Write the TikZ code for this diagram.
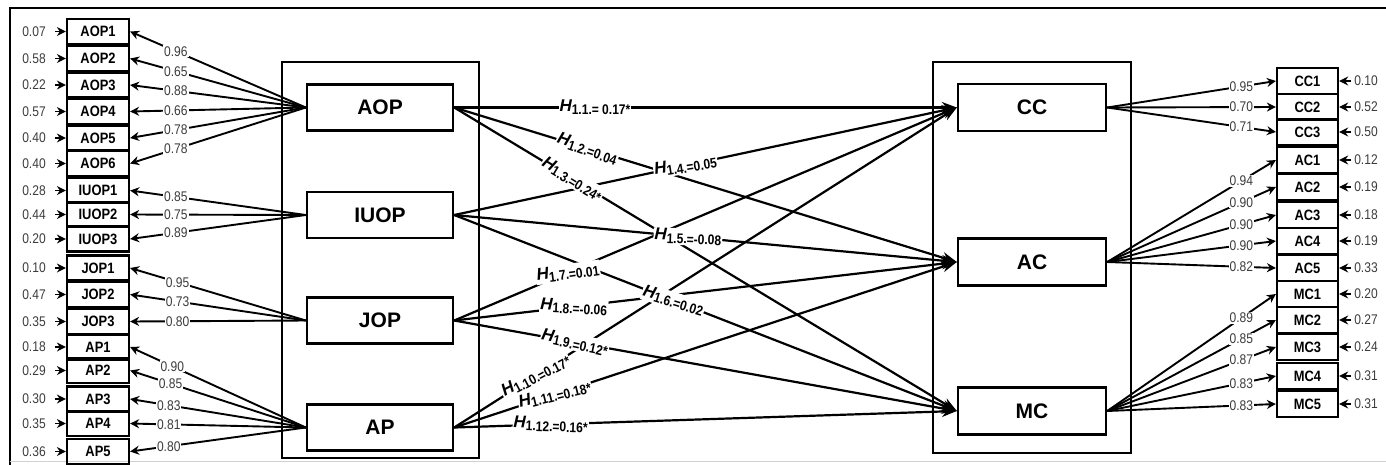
\documentclass[tikz,border=0pt]{standalone}
\usepackage{fontspec}
\setmainfont{Liberation Sans}
\newfontfamily\narrowfont[FakeStretch=0.86]{Liberation Sans}
\usetikzlibrary{arrows.meta}
\definecolor{numgray}{RGB}{60,60,60}
% hypothesis label: big italic H, lowered index and estimate
\newcommand\hyplab[1]{{\fontsize{17}{17}\selectfont\bfseries\itshape H}\raisebox{-3pt}{\narrowfont\bfseries\fontsize{14}{14}\selectfont #1}}
\tikzset{
  ind/.style={draw, line width=2.2pt, minimum width=62pt, minimum height=25pt, inner sep=0pt,
    font=\narrowfont\bfseries\fontsize{15}{15}\selectfont},
  lat/.style={draw, line width=2.4pt, minimum width=146pt, minimum height=46pt, inner sep=0pt,
    font=\bfseries\fontsize{21}{21}\selectfont},
  num/.style={text=numgray, font=\narrowfont\fontsize{14}{14}\selectfont, inner sep=1pt},
  lnum/.style={num, fill=white},
  smallarrow/.style={-{Stealth[length=9pt,width=9pt]}, line width=1.9pt},
  patharrow/.style={-{Stealth[length=15pt,width=11pt]}, line width=2.2pt},
  hlab/.style={fill=white, inner sep=1pt},
  frame/.style={line width=2.4pt},
}
\begin{document}
\begin{tikzpicture}[x=1pt,y=-1pt]
\useasboundingbox (0,0) rectangle (1386,464);
% outer frame
\draw[frame] (1392,8) -- (10,8) -- (10,470);
\draw[gray!35, line width=1pt] (10,461) -- (1392,461);
% construct groups
\draw[frame] (282,62) rectangle (479,458);
\draw[frame] (933,62) rectangle (1131,453);

% exogenous constructs
\node[lat] (AOP)  at (380,107.5) {AOP};
\node[lat] (IUOP) at (380,215)   {IUOP};
\node[lat] (JOP)  at (380,320.5) {JOP};
\node[lat] (AP)   at (380,427.5) {AP};
% endogenous constructs
\node[lat, minimum width=148pt, minimum height=47pt] (CC) at (1032,107.5) {CC};
\node[lat, minimum width=148pt, minimum height=47pt] (AC) at (1032,262)   {AC};
\node[lat, minimum width=148pt, minimum height=47pt] (MC) at (1032,411)   {MC};

% left indicators with error terms
\foreach \n/\y/\e in {AOP1/31.5/0.07, AOP2/58.5/0.58, AOP3/85/0.22, AOP4/111.5/0.57,
  AOP5/138/0.40, AOP6/163.5/0.40, IUOP1/190.5/0.28, IUOP2/214.5/0.44, IUOP3/239/0.20,
  JOP1/268/0.10, JOP2/294.5/0.47, JOP3/321.5/0.35, AP1/347/0.18, AP2/370.5/0.29,
  AP3/399/0.30, AP4/423.5/0.35, AP5/451.5/0.36}{
  \node[ind] (\n) at (98,\y) {\n};
  \node[num] (e\n) at (34,\y) {\e};
  \draw[smallarrow, shorten <=8pt] (e\n) -- (\n);
}
% right indicators with error terms
\foreach \n/\y/\e in {CC1/81/0.10, CC2/107/0.52, CC3/132/0.50, AC1/160/0.12, AC2/187/0.19,
  AC3/215/0.18, AC4/241/0.19, AC5/268/0.33, MC1/294/0.20, MC2/320/0.27, MC3/347/0.24,
  MC4/376/0.31, MC5/404/0.31}{
  \node[ind, minimum width=61pt, minimum height=26pt] (\n) at (1307.5,\y) {\n};
  \node[num] (e\n) at (1366,\y) {\e};
  \draw[smallarrow, shorten <=2pt] (e\n) -- (\n);
}

% loadings of the exogenous constructs
\foreach \s/\n/\v/\p in {AOP/AOP1/0.96/0.74, AOP/AOP2/0.65/0.74, AOP/AOP3/0.88/0.74,
  AOP/AOP4/0.66/0.74, AOP/AOP5/0.78/0.74, AOP/AOP6/0.78/0.74,
  IUOP/IUOP1/0.85/0.74, IUOP/IUOP2/0.75/0.74, IUOP/IUOP3/0.89/0.74,
  JOP/JOP1/0.95/0.73, JOP/JOP2/0.73/0.73, JOP/JOP3/0.80/0.73,
  AP/AP1/0.90/0.76, AP/AP2/0.85/0.77, AP/AP3/0.83/0.78, AP/AP4/0.81/0.78, AP/AP5/0.80/0.78}{
  \draw[smallarrow] (\s.west) -- node[lnum, pos=\p] {\v} (\n.east);
}
% loadings of the endogenous constructs
\foreach \s/\n/\v in {CC/CC1/0.95, CC/CC2/0.70, CC/CC3/0.71,
  AC/AC1/0.94, AC/AC2/0.90, AC/AC3/0.90, AC/AC4/0.90, AC/AC5/0.82,
  MC/MC1/0.89, MC/MC2/0.85, MC/MC3/0.87, MC/MC4/0.83, MC/MC5/0.83}{
  \draw[smallarrow] (\s.east) -- node[lnum, pos=0.795] {\v} (\n.west);
}

% structural paths, then their labels on top
\def\hyppaths{AOP/CC/0.28/0/1.1.= 0.17*, AOP/AC/0.265/-19/1.2.=0.04, AOP/MC/0.235/-31/1.3.=0.24*,
  IUOP/CC/0.46/9/1.4.=0.05, IUOP/AC/0.465/-2/1.5.=-0.08, IUOP/MC/0.436/-17/1.6.=0.02,
  JOP/CC/0.226/8/1.7.=0.01, JOP/AC/0.238/-3/1.8.=-0.06, JOP/MC/0.24/-12/1.9.=0.12*,
  AP/CC/0.162/28/1.10.=0.17*, AP/AC/0.2/14/1.11.=0.18*, AP/MC/0.192/-2/1.12.=0.16*}
\foreach \a/\b/\p/\r/\t in \hyppaths{
  \draw[patharrow] (\a.east) -- (\b.west);
}
\foreach \a/\b/\p/\r/\t in \hyppaths{
  \path (\a.east) -- node[hlab, pos=\p, rotate=\r] {\hyplab{\t}} (\b.west);
}
\end{tikzpicture}
\end{document}
